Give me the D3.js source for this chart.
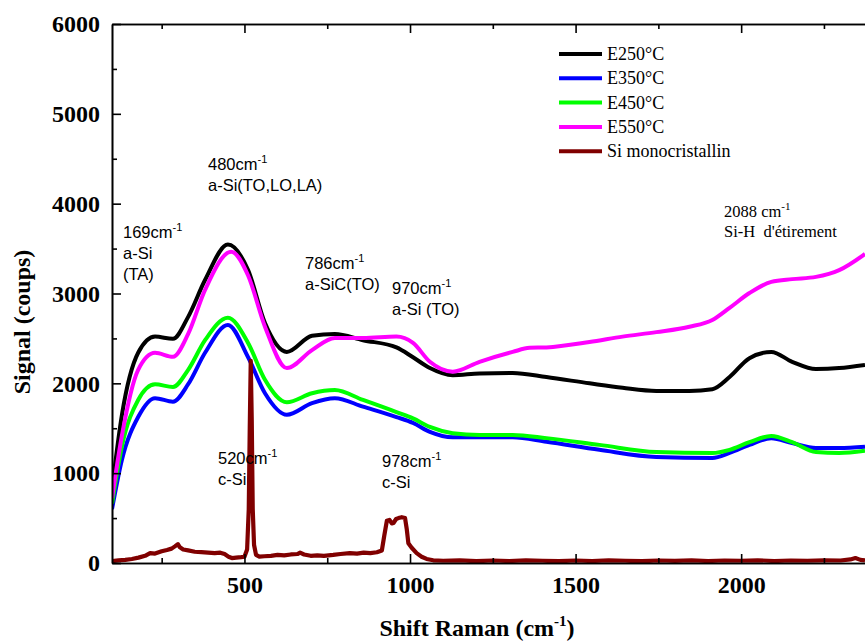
<!DOCTYPE html>
<html>
<head>
<meta charset="utf-8">
<script src="https://cdn.jsdelivr.net/npm/d3@7"></script>
<style>
  html, body { margin: 0; padding: 0; background: #fff; }
  svg { display: block; }
  .pre { white-space: pre; }
</style>
</head>
<body>
<svg id="chart" width="865" height="641"></svg>
<script>
// ---------------- DATA ----------------
const xTicksMajor = [500, 1000, 1500, 2000];
const xTicksMinor = [250, 750, 1250, 1750, 2250];
const yTicksMajor = [0, 1000, 2000, 3000, 4000, 5000, 6000];
const yTicksMinor = [500, 1500, 2500, 3500, 4500, 5500];

const e250X = [100, 130, 179, 230, 284, 330, 381, 450, 511, 562, 628, 704, 773, 858, 959, 1009, 1060, 1129, 1210, 1310, 1412, 1542, 1642, 1744, 1844, 1913, 1965, 2025, 2091, 2154, 2226, 2296, 2374];
const e250Y = [820, 1650, 2340, 2520, 2495, 2740, 3150, 3545, 3260, 2670, 2350, 2530, 2550, 2480, 2400, 2290, 2170, 2090, 2110, 2115, 2070, 2000, 1950, 1915, 1915, 1935, 2070, 2280, 2350, 2240, 2160, 2170, 2205];

const e350X = [100, 130, 179, 230, 284, 330, 381, 450, 511, 562, 628, 704, 773, 858, 959, 1009, 1060, 1129, 1210, 1310, 1412, 1572, 1744, 1913, 1965, 2025, 2091, 2154, 2226, 2296, 2374];
const e350Y = [600, 1150, 1625, 1835, 1795, 1990, 2340, 2650, 2290, 1890, 1650, 1780, 1835, 1740, 1625, 1560, 1460, 1400, 1400, 1400, 1350, 1260, 1180, 1170, 1225, 1315, 1390, 1335, 1280, 1280, 1295];

const e450X = [100, 130, 179, 230, 284, 330, 381, 450, 511, 562, 628, 704, 773, 858, 959, 1009, 1060, 1129, 1210, 1310, 1412, 1572, 1744, 1913, 1965, 2025, 2091, 2154, 2226, 2296, 2374];
const e450Y = [660, 1300, 1815, 1990, 1960, 2150, 2480, 2730, 2450, 2040, 1790, 1890, 1925, 1815, 1680, 1610, 1515, 1445, 1425, 1425, 1390, 1315, 1235, 1225, 1260, 1345, 1415, 1345, 1235, 1225, 1250];

const e550X = [100, 130, 179, 230, 284, 330, 381, 460, 511, 562, 628, 704, 773, 858, 959, 1009, 1060, 1129, 1210, 1310, 1361, 1412, 1542, 1642, 1744, 1844, 1913, 1965, 2025, 2091, 2154, 2226, 2296, 2374];
const e550Y = [720, 1420, 2150, 2340, 2295, 2550, 3040, 3465, 3200, 2630, 2170, 2370, 2505, 2505, 2520, 2450, 2240, 2130, 2240, 2350, 2395, 2400, 2460, 2520, 2570, 2630, 2705, 2840, 3005, 3130, 3160, 3185, 3260, 3440];

const siX = [100, 120, 140, 160, 180, 200, 215, 230, 250, 266, 280, 290, 299, 305, 315, 330, 350, 370, 390, 410, 427, 440, 452, 462, 475, 490, 500, 508, 513, 516, 519, 522, 525, 529, 535, 545, 560, 580, 600, 620, 640, 660, 668, 680, 700, 720, 740, 768, 790, 818, 840, 860, 880, 900, 915, 922, 930, 938, 945, 950, 958, 965, 975, 985, 990, 995, 1005, 1020, 1035, 1050, 1070, 1100, 1150, 1200, 1250, 1300, 1350, 1400, 1450, 1500, 1550, 1600, 1650, 1700, 1750, 1800, 1850, 1900, 1950, 2000, 2050, 2100, 2150, 2200, 2250, 2300, 2330, 2345, 2360, 2374];
const siY = [20, 30, 35, 45, 60, 80, 110, 105, 130, 145, 160, 185, 210, 175, 150, 140, 125, 120, 115, 110, 115, 100, 70, 55, 60, 65, 70, 150, 600, 1500, 2250, 1600, 600, 200, 90, 70, 75, 80, 90, 85, 95, 100, 115, 95, 80, 85, 80, 90, 100, 110, 105, 115, 110, 120, 140, 300, 470, 480, 440, 445, 490, 500, 510, 500, 380, 220, 170, 110, 70, 45, 30, 25, 30, 20, 28, 22, 30, 25, 20, 28, 22, 30, 25, 20, 28, 24, 30, 22, 28, 25, 30, 22, 28, 25, 30, 28, 40, 55, 35, 30];

const seriesNames = ["E250°C", "E350°C", "E450°C", "E550°C", "Si monocristallin"];
const seriesColors = ["#000000", "#0000ff", "#00ff00", "#ff00ff", "#800000"];

// annotations: anchor value (cm-1) and counts for first baseline; first line gets superscript -1
const annotations = [
  {x: 169, y: 3620, lines: ["169cm", "a-Si", "(TA)"], sans: true},
  {x: 480, y: 4380, lines: ["480cm", "a-Si(TO,LO,LA)"], sans: true},
  {x: 786, y: 3270, lines: ["786cm", "a-SiC(TO)"], sans: true},
  {x: 970, y: 2990, lines: ["970cm", "a-Si (TO)"], sans: true},
  {x: 520, y: 1100, lines: ["520cm", "c-Si"], sans: true},
  {x: 978, y: 1070, lines: ["978cm", "c-Si"], sans: true},
  {x: 2088, y: 3850, lines: ["2088 cm", "Si-H  d'étirement"], sans: false}
];
const annotLeftPx = [123, 208, 305, 392, 218, 382, 724];

// ---------------- CHART ----------------
const svg = d3.select("#chart");
const W = 865, H = 641;
const m = {left: 112, right: 0, top: 24, bottom: 78};
const x = d3.scaleLinear().domain([100, 2374]).range([m.left, W]);
const y = d3.scaleLinear().domain([0, 6000]).range([H - m.bottom, m.top]);

const serif = "'Liberation Serif', 'Times New Roman', serif";
const sans = "'Liberation Sans', Arial, sans-serif";

svg.append("defs").append("clipPath").attr("id", "plotclip")
  .append("rect").attr("x", m.left).attr("y", m.top)
  .attr("width", W - m.left).attr("height", H - m.bottom - m.top);

const line = d3.line().x(d => x(d[0])).y(d => y(d[1])).curve(d3.curveMonotoneX);
const lineLin = d3.line().x(d => x(d[0])).y(d => y(d[1]));

const zip = (a, b) => a.map((v, i) => [v, b[i]]);
const smooth = [
  {d: zip(e250X, e250Y), c: seriesColors[0]},
  {d: zip(e350X, e350Y), c: seriesColors[1]},
  {d: zip(e450X, e450Y), c: seriesColors[2]},
  {d: zip(e550X, e550Y), c: seriesColors[3]}
];
const g = svg.append("g").attr("clip-path", "url(#plotclip)");
smooth.forEach(s => {
  g.append("path").attr("d", line(s.d)).attr("fill", "none")
    .attr("stroke", s.c).attr("stroke-width", 4).attr("stroke-linejoin", "round");
});
g.append("path").attr("d", lineLin(zip(siX, siY))).attr("fill", "none")
  .attr("stroke", seriesColors[4]).attr("stroke-width", 4.2).attr("stroke-linejoin", "round");

// axes
function styleAxis(sel) {
  sel.selectAll("path.domain").attr("stroke", "#000").attr("stroke-width", 1.6);
  sel.selectAll(".tick line").attr("stroke", "#000").attr("stroke-width", 1.6);
  sel.selectAll("text").attr("font-family", serif).attr("font-weight", "bold")
    .attr("font-size", 24).attr("fill", "#000");
}
const yb = H - m.bottom;
svg.append("g").attr("transform", `translate(0,${yb})`)
  .call(d3.axisBottom(x).tickValues(xTicksMajor).tickSize(-9).tickSizeOuter(0).tickPadding(13).tickFormat(d3.format("d")))
  .call(styleAxis);
svg.append("g").attr("transform", `translate(0,${yb})`)
  .call(d3.axisBottom(x).tickValues(xTicksMinor).tickSize(-5).tickSizeOuter(0).tickFormat(""))
  .call(styleAxis);
svg.append("g").attr("transform", `translate(0,${m.top})`)
  .call(d3.axisTop(x).tickValues(xTicksMajor).tickSize(-9).tickSizeOuter(0).tickFormat(""))
  .call(styleAxis);
svg.append("g").attr("transform", `translate(0,${m.top})`)
  .call(d3.axisTop(x).tickValues(xTicksMinor).tickSize(-5).tickSizeOuter(0).tickFormat(""))
  .call(styleAxis);
svg.append("g").attr("transform", `translate(${m.left},0)`)
  .call(d3.axisLeft(y).tickValues(yTicksMajor).tickSize(-9).tickSizeOuter(0).tickPadding(12).tickFormat(d3.format("d")))
  .call(styleAxis);
svg.append("g").attr("transform", `translate(${m.left},0)`)
  .call(d3.axisLeft(y).tickValues(yTicksMinor).tickSize(-5).tickSizeOuter(0).tickFormat(""))
  .call(styleAxis);

// axis titles
const xt = svg.append("text").attr("x", 477).attr("y", 636).attr("text-anchor", "middle")
  .attr("font-family", serif).attr("font-weight", "bold").attr("font-size", 24);
xt.append("tspan").text("Shift Raman (cm");
xt.append("tspan").attr("font-size", 15).attr("dy", -10).text("-1");
xt.append("tspan").attr("dy", 10).text(")");

svg.append("text").attr("transform", `translate(30,322) rotate(-90)`)
  .attr("text-anchor", "middle")
  .attr("font-family", serif).attr("font-weight", "bold").attr("font-size", 24)
  .text("Signal (coups)");

// annotations
annotations.forEach((a, i) => {
  const px = annotLeftPx[i];
  const py = y(a.y);
  const fam = a.sans ? sans : serif;
  const lh = a.sans ? 21 : 20;
  a.lines.forEach((ln, j) => {
    const t = svg.append("text").attr("class", "pre").attr("x", px).attr("y", py + j * lh)
      .attr("font-family", fam).attr("font-size", a.sans ? 16.5 : 16.5).attr("fill", "#000");
    t.append("tspan").text(ln);
    if (j === 0) t.append("tspan").attr("font-size", 11).attr("dy", -7).text("-1");
  });
});

// legend
const leg = svg.append("g");
seriesNames.forEach((n, i) => {
  const ly = 54 + i * 24.3;
  leg.append("line").attr("x1", 559).attr("x2", 602).attr("y1", ly).attr("y2", ly)
    .attr("stroke", seriesColors[i]).attr("stroke-width", 4);
  leg.append("text").attr("x", 607).attr("y", ly + 6)
    .attr("font-family", serif).attr("font-size", 18).attr("fill", "#000").text(n);
});
</script>
</body>
</html>
